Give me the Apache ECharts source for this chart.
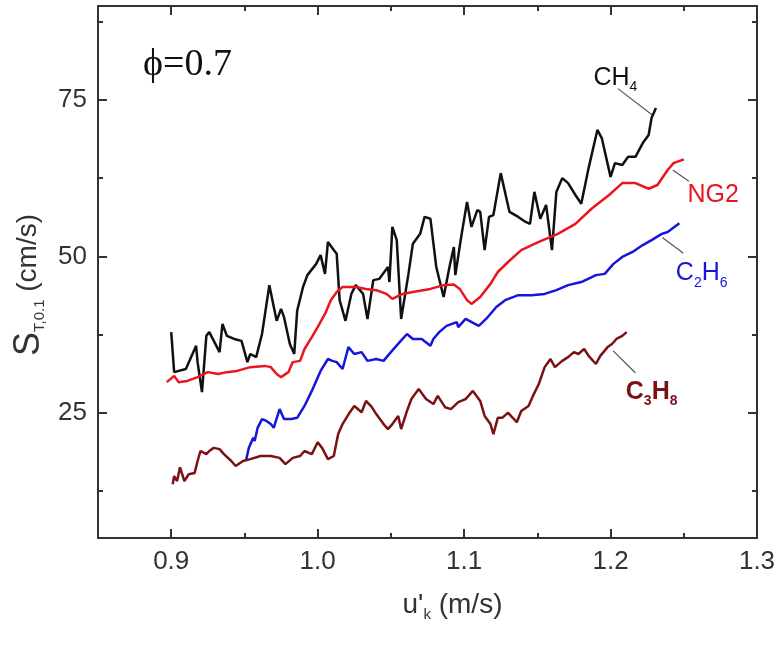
<!DOCTYPE html>
<html>
<head>
<meta charset="utf-8">
<script src="https://cdn.jsdelivr.net/npm/echarts@6/dist/echarts.min.js"></script>
<style>
  html, body { margin: 0; padding: 0; background: #fff; }
  #chart { width: 781px; height: 649px; }
</style>
</head>
<body>
<div id="chart"></div>
<script>
// tick positions
const xMajor = [0.9, 1.0, 1.1, 1.2, 1.3];
const xMinor = [0.95, 1.05, 1.15, 1.25];
const yMajor = [25, 50, 75];
const yMinor = [12.5, 37.5, 62.5, 87.5];

// [u'k, S_T,0.1]
const ch4 = [[0.900,37.9],[0.902,31.5],[0.910,32.0],[0.917,35.7],[0.918,33.1],[0.921,28.3],[0.924,37.3],[0.926,37.9],[0.933,34.7],[0.935,39.2],[0.938,37.3],[0.943,36.8],[0.948,36.5],[0.952,33.1],[0.954,34.4],[0.958,33.9],[0.962,37.6],[0.967,45.4],[0.972,39.7],[0.975,41.6],[0.977,40.3],[0.981,36.0],[0.984,34.4],[0.986,41.3],[0.990,45.1],[0.993,47.0],[0.999,48.8],[1.002,50.2],[1.005,47.2],[1.007,52.3],[1.011,51.0],[1.013,50.4],[1.015,43.0],[1.019,39.7],[1.023,44.0],[1.026,45.4],[1.031,44.0],[1.034,40.0],[1.038,46.2],[1.042,46.4],[1.048,48.3],[1.049,45.9],[1.051,54.7],[1.054,52.6],[1.057,40.0],[1.062,47.2],[1.065,52.0],[1.070,53.6],[1.073,56.3],[1.077,56.0],[1.081,48.3],[1.086,43.5],[1.090,48.3],[1.093,51.5],[1.094,47.0],[1.098,53.1],[1.102,58.7],[1.105,54.7],[1.109,57.4],[1.111,57.1],[1.114,51.0],[1.117,56.3],[1.120,56.6],[1.125,63.3],[1.131,57.1],[1.137,56.3],[1.142,55.5],[1.145,55.2],[1.148,60.3],[1.152,56.0],[1.156,58.2],[1.160,51.0],[1.163,60.3],[1.167,62.5],[1.171,61.7],[1.176,59.8],[1.180,58.4],[1.185,64.1],[1.191,70.2],[1.194,68.9],[1.200,62.7],[1.203,64.9],[1.208,64.6],[1.212,65.9],[1.217,65.9],[1.222,68.1],[1.226,69.4],[1.228,72.1],[1.231,73.7]];
const ng2 = [[0.897,29.9],[0.902,30.9],[0.905,29.9],[0.911,30.1],[0.918,30.7],[0.925,31.5],[0.932,31.2],[0.938,31.5],[0.945,31.7],[0.954,32.3],[0.964,32.5],[0.968,32.3],[0.972,31.2],[0.975,30.7],[0.980,31.5],[0.983,33.1],[0.988,33.3],[0.991,35.2],[0.996,37.1],[1.000,38.7],[1.005,40.8],[1.009,43.0],[1.013,44.3],[1.017,45.1],[1.026,45.1],[1.033,44.8],[1.040,44.6],[1.047,44.0],[1.051,43.2],[1.058,44.0],[1.065,44.3],[1.077,44.8],[1.086,45.4],[1.093,45.5],[1.097,44.8],[1.102,43.0],[1.105,42.4],[1.111,43.5],[1.118,45.6],[1.123,47.5],[1.130,49.1],[1.139,51.0],[1.151,52.3],[1.164,53.6],[1.176,55.2],[1.187,57.6],[1.199,59.8],[1.208,61.7],[1.217,61.7],[1.226,60.8],[1.232,61.4],[1.239,63.8],[1.243,64.9],[1.250,65.5]];
const c2h6 = [[0.951,17.3],[0.953,19.4],[0.956,21.0],[0.957,20.5],[0.959,22.6],[0.962,24.0],[0.965,23.7],[0.968,23.2],[0.970,22.6],[0.974,25.6],[0.977,24.0],[0.982,24.0],[0.986,24.2],[0.991,26.1],[0.996,28.5],[1.002,31.7],[1.007,33.6],[1.010,33.3],[1.013,33.1],[1.017,32.0],[1.021,35.5],[1.025,34.4],[1.030,34.7],[1.034,33.3],[1.040,33.6],[1.045,33.3],[1.050,34.7],[1.056,36.3],[1.061,37.6],[1.065,36.8],[1.071,36.8],[1.077,35.7],[1.079,36.8],[1.083,37.9],[1.088,38.9],[1.095,39.5],[1.096,38.7],[1.101,40.0],[1.110,38.9],[1.115,40.0],[1.122,41.9],[1.128,43.0],[1.137,43.8],[1.146,43.8],[1.155,44.0],[1.163,44.6],[1.171,45.4],[1.180,45.9],[1.190,47.0],[1.196,47.2],[1.202,48.8],[1.208,49.9],[1.215,50.7],[1.222,51.8],[1.228,52.6],[1.235,53.6],[1.239,53.9],[1.247,55.3]];
const c3h8 = [[0.901,13.6],[0.902,14.9],[0.904,14.1],[0.906,16.3],[0.909,14.1],[0.912,15.2],[0.916,15.4],[0.918,17.3],[0.920,18.9],[0.924,18.4],[0.926,18.9],[0.929,19.4],[0.933,19.2],[0.936,18.4],[0.941,17.3],[0.944,16.5],[0.949,17.3],[0.954,17.6],[0.961,18.1],[0.968,18.1],[0.974,17.8],[0.978,16.8],[0.983,17.8],[0.988,18.1],[0.991,18.9],[0.996,18.4],[1.000,20.3],[1.003,19.4],[1.007,17.6],[1.011,18.1],[1.014,21.6],[1.017,23.2],[1.022,25.1],[1.025,26.1],[1.030,25.1],[1.033,26.9],[1.037,25.9],[1.040,24.8],[1.045,23.2],[1.048,22.4],[1.051,23.2],[1.055,24.5],[1.057,22.4],[1.061,25.3],[1.064,27.2],[1.069,28.8],[1.074,27.2],[1.079,26.4],[1.082,27.7],[1.087,25.9],[1.091,25.6],[1.096,26.7],[1.101,27.2],[1.106,28.5],[1.111,26.9],[1.114,24.5],[1.118,23.2],[1.120,21.6],[1.123,24.2],[1.126,24.2],[1.130,25.0],[1.136,23.5],[1.139,25.3],[1.144,26.1],[1.147,27.7],[1.151,29.6],[1.155,32.3],[1.159,33.6],[1.162,32.3],[1.167,33.3],[1.171,33.9],[1.175,34.7],[1.178,34.4],[1.182,35.2],[1.185,34.1],[1.190,32.8],[1.193,34.1],[1.198,35.5],[1.201,36.0],[1.204,36.8],[1.208,37.3],[1.211,37.9]];

// leader lines of the curve labels
const ch4Lead = [[1.205,76.8],[1.2285,72.6]];
const ng2Lead = [[1.2425,63.8],[1.2535,62.0]];
const c2h6Lead = [[1.2354,53.0],[1.2497,50.5]];
const c3h8Lead = [[1.2018,34.9],[1.2169,31.4]];

const AX = '#333';
const FONT = 'Liberation Sans, Arial, sans-serif';

function xAx(pos, ticks, len, main) {
  return {
    type: 'value', position: pos, min: 0.85, max: 1.3,
    axisLine: { show: main, onZero: false, lineStyle: { color: AX, width: 2 } },
    axisTick: { show: true, inside: true, length: len, customValues: ticks, lineStyle: { color: AX, width: 2 } },
    axisLabel: { show: false },
    splitLine: { show: false }
  };
}
function yAx(pos, ticks, len, main) {
  return {
    type: 'value', position: pos, min: 5, max: 90,
    axisLine: { show: main, onZero: false, lineStyle: { color: AX, width: 2 } },
    axisTick: { show: true, inside: true, length: len, customValues: ticks, lineStyle: { color: AX, width: 2 } },
    axisLabel: { show: false },
    splitLine: { show: false }
  };
}

const xBottom = xAx('bottom', xMajor, 9, true);
xBottom.axisLabel = { show: true, customValues: xMajor, formatter: v => v.toFixed(1), fontSize: 26, color: '#333', margin: 11, fontFamily: FONT };
xBottom.name = "{a|u'}{s|k}{a| (m/s)}";
xBottom.nameLocation = 'middle';
xBottom.nameGap = 50;
xBottom.nameTextStyle = {
  padding: [0, 0, 0, 50],
  rich: { a: { fontSize: 28, color: '#333', fontFamily: FONT }, s: { fontSize: 15, color: '#333', fontFamily: FONT, padding: [19, 0, 0, 0] } }
};

const yLeft = yAx('left', yMajor, 9, true);
yLeft.axisLabel = { show: true, customValues: yMajor, fontSize: 26, color: '#333', margin: 11, fontFamily: FONT };
yLeft.name = '{S|S}{s|T,0.1}{a| (cm/s)}';
yLeft.nameLocation = 'middle';
yLeft.nameGap = 46;
yLeft.nameTextStyle = {
  padding: [0, 26, 0, 0],
  rich: {
    S: { fontSize: 36, color: '#333', fontFamily: FONT },
    s: { fontSize: 15, color: '#333', fontFamily: FONT, padding: [22, 0, 0, 0] },
    a: { fontSize: 28, color: '#333', fontFamily: FONT }
  }
};

function curve(name, data, color) {
  return {
    name, type: 'line', data, xAxisIndex: 0, yAxisIndex: 0,
    showSymbol: false, symbol: 'none', smooth: false,
    lineStyle: { color, width: 2.5 }, z: 3
  };
}
function leader(lead, labelIdx, text, color, offset, bold) {
  const w = bold ? 'bold' : 'normal';
  const data = lead.map((p, i) => {
    const item = { value: p };
    if (i === labelIdx) {
      item.label = {
        show: true, position: 'right', distance: 5, offset,
        formatter: text,
        rich: {
          n: { fontSize: 25, color, fontFamily: FONT, fontWeight: w },
          s: { fontSize: 14, color, fontFamily: FONT, fontWeight: w, padding: [19, 0, 0, 0] }
        }
      };
    }
    return item;
  });
  return {
    type: 'line', data, xAxisIndex: 0, yAxisIndex: 0,
    symbol: 'circle', symbolSize: 1, showSymbol: true, showAllSymbol: true,
    itemStyle: { color: 'rgba(0,0,0,0)', borderWidth: 0 },
    lineStyle: { color: '#555', width: 1.2 }, z: 2
  };
}

const chart = echarts.init(document.getElementById('chart'), null, { renderer: 'canvas' });
chart.setOption({
  animation: false,
  backgroundColor: '#fff',
  grid: { left: 98, right: 24, top: 6, bottom: 111, containLabel: false, outerBoundsMode: 'none' },
  xAxis: [xBottom, xAx('top', xMajor, 9, true), xAx('bottom', xMinor, 5, false), xAx('top', xMinor, 5, false)],
  yAxis: [yLeft, yAx('right', yMajor, 9, true), yAx('left', yMinor, 5, false), yAx('right', yMinor, 5, false)],
  graphic: [{
    type: 'text', left: 143, top: 46,
    style: { text: 'ϕ=0.7', fontSize: 38, fontFamily: 'Liberation Serif, Times New Roman, serif', fill: '#111' }
  }],
  series: [
    curve('CH4', ch4, '#111111'),
    curve('NG2', ng2, '#e8161e'),
    curve('C2H6', c2h6, '#1515dc'),
    curve('C3H8', c3h8, '#7a1214'),
    leader(ch4Lead, 0, '{n|CH}{s|4}', '#111111', [-30, -11], false),
    leader(ng2Lead, 1, '{n|NG2}', '#e8161e', [-7, 14], false),
    leader(c2h6Lead, 1, '{n|C}{s|2}{n|H}{s|6}', '#1515dc', [-13, 20], false),
    leader(c3h8Lead, 1, '{n|C}{s|3}{n|H}{s|8}', '#7a1214', [-15, 19], true)
  ]
});
</script>
</body>
</html>
